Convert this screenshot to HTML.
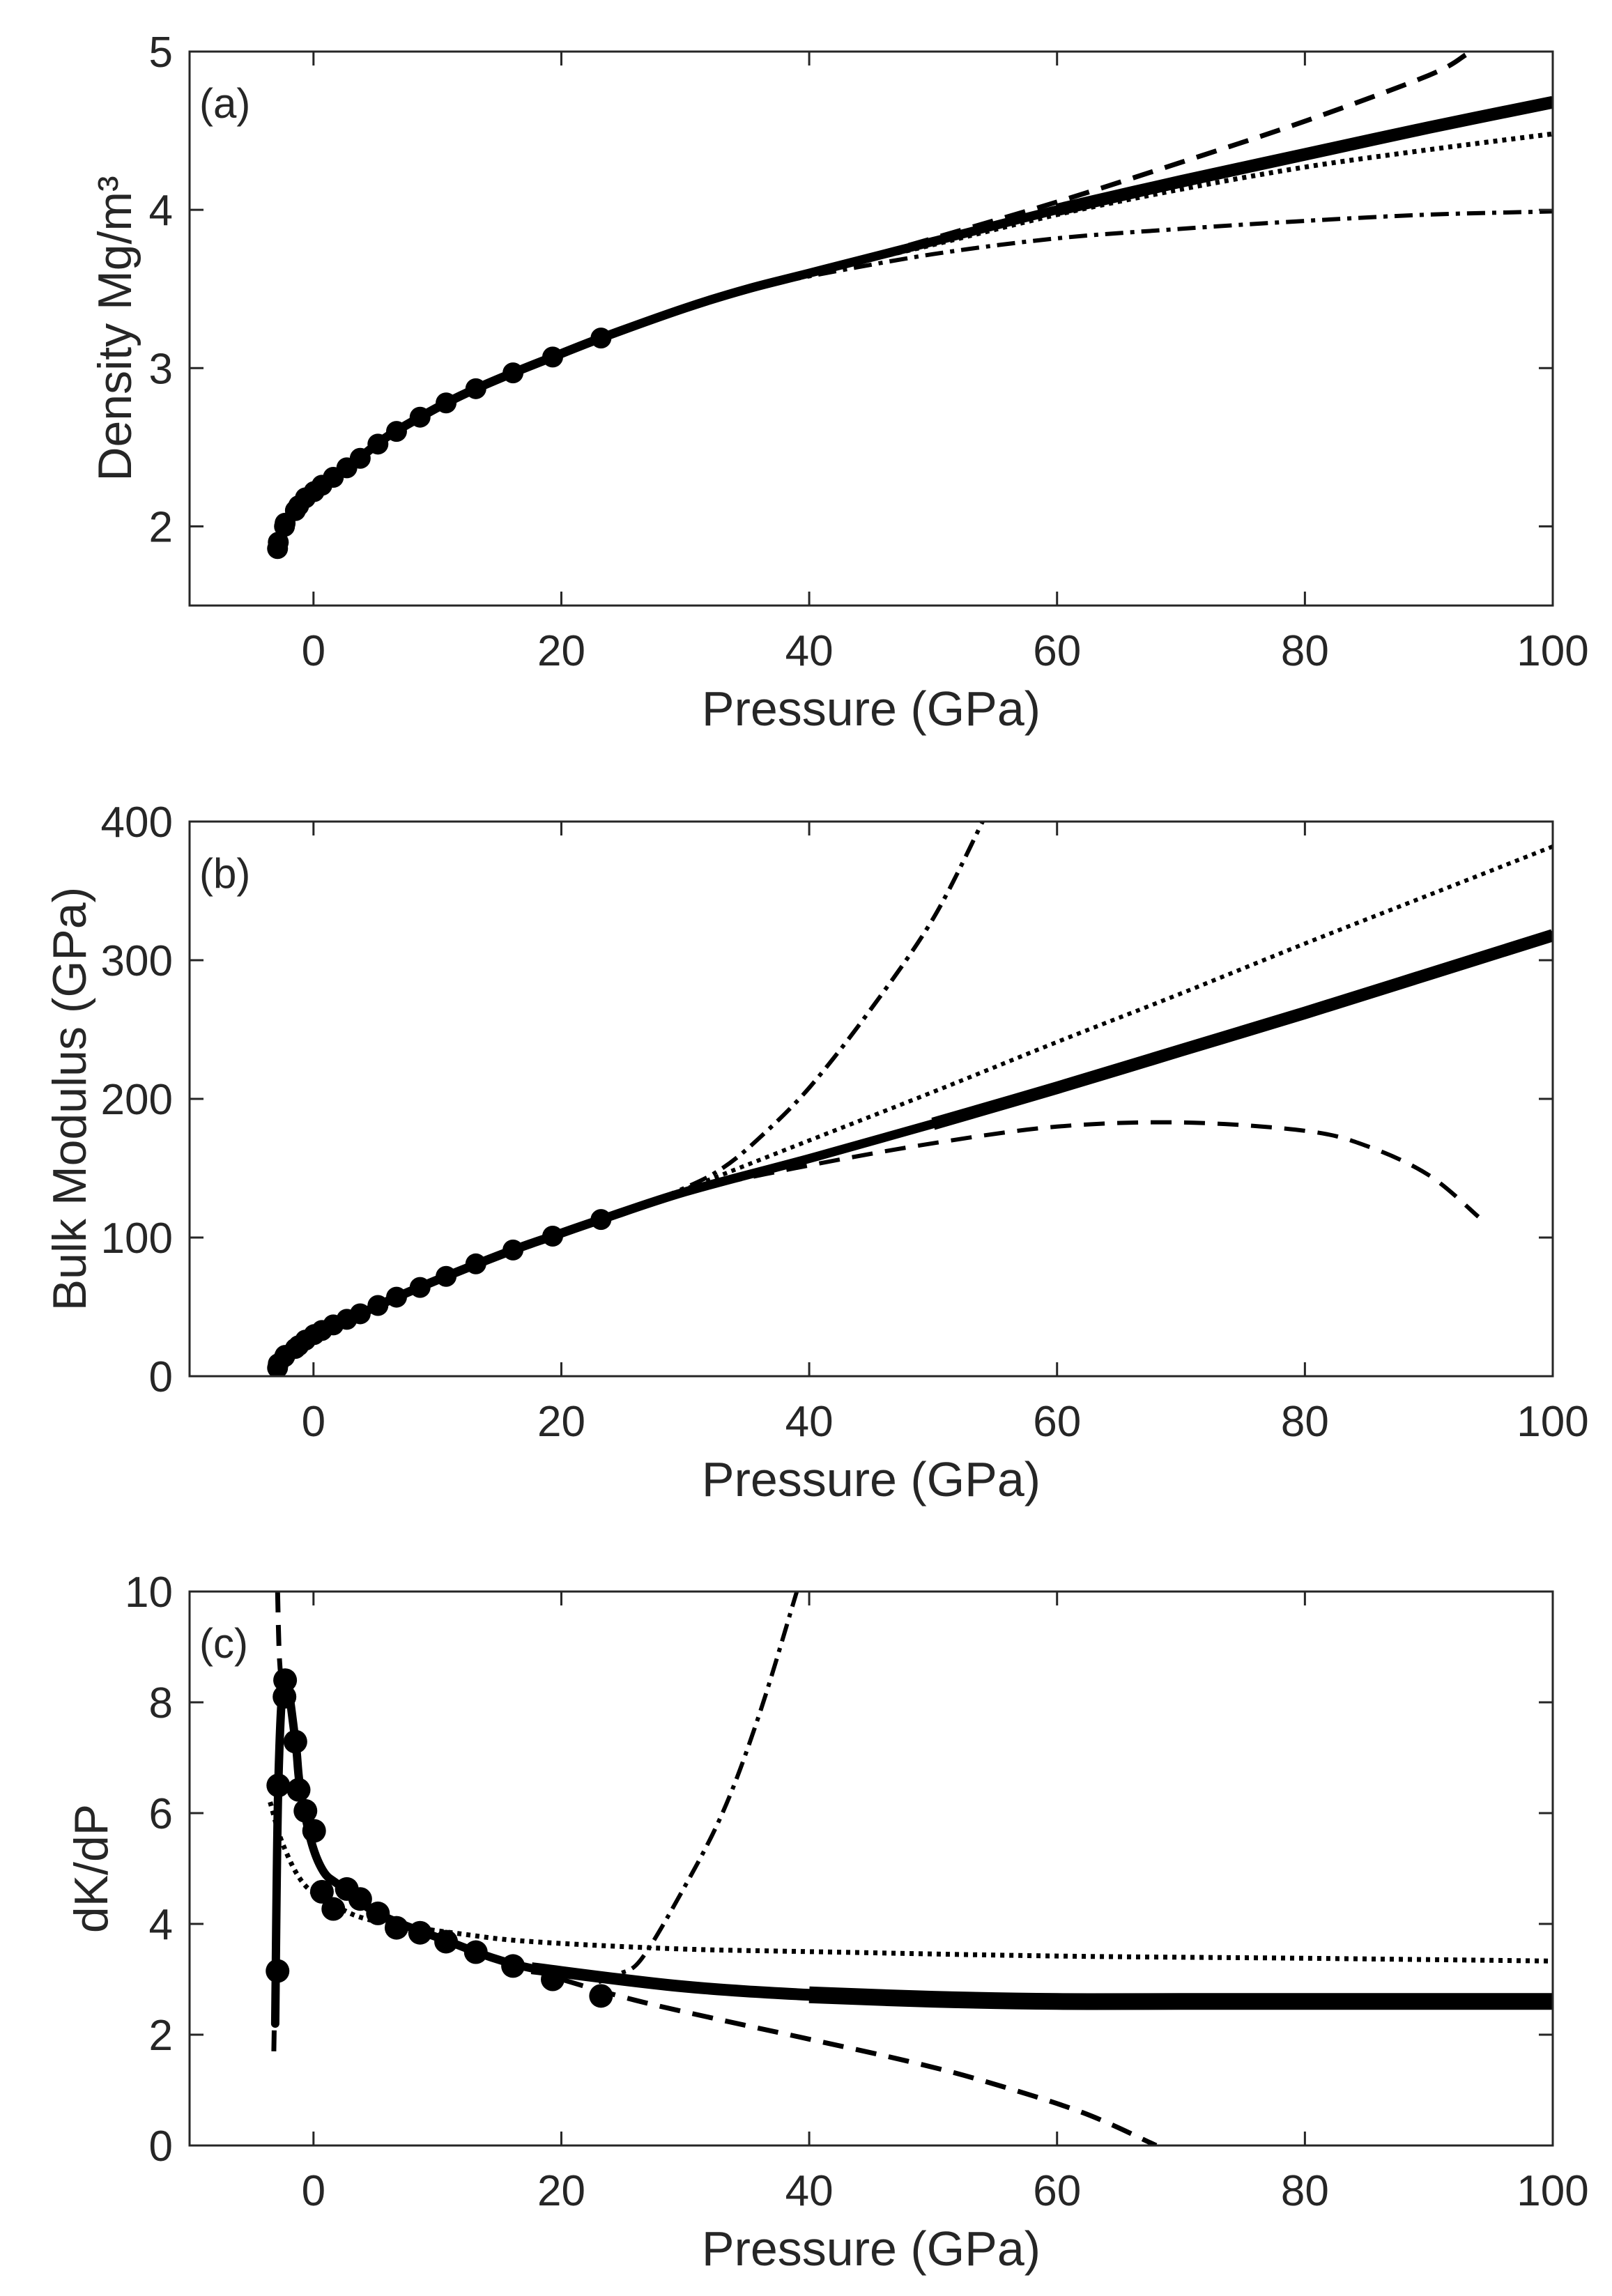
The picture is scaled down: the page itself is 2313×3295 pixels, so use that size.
<!DOCTYPE html>
<html><head><meta charset="utf-8"><style>
html,body{margin:0;padding:0;background:#fff;}
svg{display:block;font-family:"Liberation Sans",Arial,sans-serif;}
</style></head><body>
<svg id="fig" width="2313" height="3295" viewBox="0 0 2313 3295" xmlns="http://www.w3.org/2000/svg"></svg>
<script>
// ---- data ----
const xTicks = [0,20,40,60,80,100];
const markerP = [-2.9,-2.84,-2.34,-2.29,-1.46,-1.2,-0.65,0.05,0.68,1.6,2.69,3.77,5.2,6.7,8.6,10.7,13.1,16.1,19.3,23.2];

// panel a : density
const aTicks = [2,3,4,5];
const aMarkVals = [1.86,1.9,2.0,2.02,2.1,2.13,2.18,2.22,2.26,2.31,2.37,2.43,2.52,2.6,2.69,2.78,2.87,2.97,3.07,3.19];
const aSolidP = [-3,-2.8,-2.4,-2,-1.4,-0.7,0,1,2.5,4,6,8.6,10.7,13.1,16.1,19.3,23.2,30,35,40,50,60,70,80,90,100];
const aSolidV = [1.84,1.9,1.99,2.05,2.11,2.17,2.22,2.28,2.36,2.45,2.57,2.69,2.78,2.87,2.97,3.07,3.19,3.38,3.5,3.6,3.8,4.0,4.18,4.35,4.52,4.68];
const aDashP = [35,40,45,50,60,70,80,90,93];
const aDashV = [3.5,3.61,3.71,3.82,4.05,4.3,4.56,4.85,4.98];
const aDotP = [35,40,50,60,70,80,90,100];
const aDotV = [3.5,3.6,3.78,3.97,4.13,4.27,4.38,4.48];
const aDdP = [35,40,50,60,70,80,90,100];
const aDdV = [3.5,3.58,3.72,3.82,3.88,3.93,3.97,3.99];

// panel b : bulk modulus
const bTicks = [0,100,200,300,400];
const bMarkVals = [6,9,14,15,20,22,26,30,33,37,41,45,51,57,64,72,81,91,101,113];
const bSolidP = [-3,-2.5,-2,-1.2,0,1.6,3.77,6.7,10.7,16.1,19.3,23.2,30,40,50,60,70,80,90,100];
const bSolidV = [6,12,17,22,30,37,45,57,72,91,101,113,133,157,182,208,235,262,290,318];
const bDashP = [20,25,30,40,50,60,70,80,85,90,94];
const bDashV = [103,118,133,152,168,180,183,177,166,145,115];
const bDotP = [20,25,30,40,50,60,70,80,90,100];
const bDotV = [103,119,135,170,205,241,276,312,347,382];
const bDdP = [25,30,33,36,40,45,50,54];
const bDdV = [118,136,150,172,208,265,330,400];

// panel c : dK/dP
const cTicks = [0,2,4,6,8,10];
const cMarkVals = [3.15,6.5,8.1,8.4,7.29,6.42,6.04,5.68,4.58,4.27,4.63,4.45,4.19,3.93,3.84,3.68,3.49,3.24,3.0,2.7];
const cSolidP = [-3.09,-2.84,-2.34,-1.46,-1.1,-0.2,0.8,2.06,5.1,10.1,17.6,29.4,40,50,60,70,100];
const cSolidV = [2.2,6.5,8.45,7.3,6.5,5.5,4.95,4.7,4.2,3.75,3.2,2.88,2.72,2.64,2.6,2.6,2.6];
const cDashTopP = [-2.9,-2.75,-2.5];
const cDashTopV = [10,8.8,8.2];
const cDashLowP = [-3.2,-3.15];
const cDashLowV = [1.7,2.4];
const cDashP = [17.6,20,26,33,40,48,54,62,68];
const cDashV = [3.2,3.0,2.62,2.26,1.92,1.52,1.17,0.6,0];
const cDotP = [-3.5,-2.46,-0.7,2,5,11.9,17.6,29.4,40,60,80,100];
const cDotV = [6.2,5.43,4.7,4.3,4.05,3.82,3.68,3.55,3.5,3.42,3.38,3.33];
const cDdP = [23,24.7,26.4,29.4,33,36,39];
const cDdV = [2.95,3.1,3.35,4.45,6.0,7.8,10];

// ---- drawing ----
const NS='http://www.w3.org/2000/svg';
const svg=document.getElementById('fig');
const L=272,R=2228,XMIN=-10,XMAX=100;
function sx(p){return L+(p-XMIN)/(XMAX-XMIN)*(R-L);}
function mk(tag,attrs,parent){const e=document.createElementNS(NS,tag);for(const k in attrs)e.setAttribute(k,attrs[k]);(parent||svg).appendChild(e);return e;}
function pathD(P,V,sy){
  const pts=P.map((p,i)=>[sx(p),sy(V[i])]);
  let d='M'+pts[0][0].toFixed(1)+','+pts[0][1].toFixed(1);
  for(let i=0;i<pts.length-1;i++){
    const p0=pts[i-1]||pts[i],p1=pts[i],p2=pts[i+1],p3=pts[i+2]||p2;
    const c1=[p1[0]+(p2[0]-p0[0])/6,p1[1]+(p2[1]-p0[1])/6];
    const c2=[p2[0]-(p3[0]-p1[0])/6,p2[1]-(p3[1]-p1[1])/6];
    d+=' C'+c1.map(v=>v.toFixed(1)).join(',')+' '+c2.map(v=>v.toFixed(1)).join(',')+' '+p2[0].toFixed(1)+','+p2[1].toFixed(1);
  }
  return d;
}
function sub(P,V,from){const p=[],v=[];P.forEach((x,i)=>{if(x>=from){p.push(x);v.push(V[i]);}});return [p,v];}
function panel(cfg){
  const g=mk('g',{});
  
  
  const T=cfg.top,B=cfg.bottom;
  const sy=v=>B-(v-cfg.ymin)/(cfg.ymax-cfg.ymin)*(B-T);
  const clipId='clip-'+cfg.name;
  const cp=mk('clipPath',{id:clipId},g);mk('rect',{x:L,y:T,width:R-L,height:B-T},cp);
  const plot=mk('g',{'clip-path':'url(#'+clipId+')'},g);
  
  
  cfg.series.forEach(s=>{
    let P=s.P,V=s.V;
    if(s.from!==undefined){const r=sub(P,V,s.from);P=r[0];V=r[1];}
    const e=mk('path',{d:pathD(P,V,sy),fill:'none',stroke:'#000','stroke-width':s.w,'stroke-dasharray':s.dash||'none','stroke-linecap':s.cap||'butt','stroke-linejoin':'round'},plot);
    
    
  });
  cfg.markV.forEach((v,i)=>{
    const c=mk('circle',{cx:sx(markerP[i]),cy:sy(v),r:cfg.r,fill:'#000'},plot);
    
    
  });
  const box=mk('rect',{x:L,y:T,width:R-L,height:B-T,fill:'none',stroke:'#262626','stroke-width':3},g);
  
  
  xTicks.forEach(t=>{
    const x=sx(t);
    mk('line',{x1:x,y1:B,x2:x,y2:B-20,stroke:'#262626','stroke-width':3},g);
    mk('line',{x1:x,y1:T,x2:x,y2:T+20,stroke:'#262626','stroke-width':3},g);
    const tx=mk('text',{x:x,y:B+86,'font-size':62,'text-anchor':'middle',fill:'#262626'},g);
    tx.textContent=t;
    
    
  });
  cfg.yt.forEach(t=>{
    const y=sy(t);
    mk('line',{x1:L,y1:y,x2:L+20,y2:y,stroke:'#262626','stroke-width':3},g);
    mk('line',{x1:R,y1:y,x2:R-20,y2:y,stroke:'#262626','stroke-width':3},g);
    const tx=mk('text',{x:248,y:y+22,'font-size':62,'text-anchor':'end',fill:'#262626'},g);
    tx.textContent=t;
    
    
  });
  const xl=mk('text',{x:(L+R)/2,y:B+172,'font-size':70,'text-anchor':'middle',fill:'#262626'},g);
  xl.textContent='Pressure (GPa)';
  
  
  const yl=mk('text',{x:0,y:0,'font-size':68,'text-anchor':'middle',fill:'#262626',transform:'translate('+(cfg.ylx+24)+','+((T+B)/2)+') rotate(-90)'},g);
  yl.textContent=cfg.ylabel;
  
  
  const pl=mk('text',{x:286,y:T+95,'font-size':60,fill:'#262626'},g);
  pl.textContent=cfg.label;
  
  
}
panel({name:'panel-a-density',top:74,bottom:869,ymin:1.5,ymax:5,yt:aTicks,ylx:164,ylabel:'Density Mg/m³',label:'(a)',r:15,markV:aMarkVals,
  series:[
    {name:'dashed-series',P:aDashP,V:aDashV,w:7,dash:'30 18'},
    {name:'dotted-series',P:aDotP,V:aDotV,w:7,dash:'6 7'},
    {name:'dash-dot-series',P:aDdP,V:aDdV,w:6,dash:'26 10 6 10'},
    {name:'solid-fit-line',P:aSolidP,V:aSolidV,w:13,cap:'round'},
    {name:'solid-fit-line-thick',P:aSolidP,V:aSolidV,w:18,from:60}]});
panel({name:'panel-b-bulk-modulus',top:1179,bottom:1975,ymin:0,ymax:400,yt:bTicks,ylx:99,ylabel:'Bulk Modulus (GPa)',label:'(b)',r:15,markV:bMarkVals,
  series:[
    {name:'dashed-series',P:bDashP,V:bDashV,w:6,dash:'30 18'},
    {name:'dotted-series',P:bDotP,V:bDotV,w:6,dash:'6 7'},
    {name:'dash-dot-series',P:bDdP,V:bDdV,w:6,dash:'26 10 6 10'},
    {name:'solid-fit-line',P:bSolidP,V:bSolidV,w:13,cap:'round'},
    {name:'solid-fit-line-thick',P:bSolidP,V:bSolidV,w:18,from:50}]});
panel({name:'panel-c-dkdp',top:2284,bottom:3079,ymin:0,ymax:10,yt:cTicks,ylx:130,ylabel:'dK/dP',label:'(c)',r:17,markV:cMarkVals,
  series:[
    {name:'dashed-series-top',P:cDashTopP,V:cDashTopV,w:7,dash:'30 18'},
    {name:'dashed-series-low',P:cDashLowP,V:cDashLowV,w:7,dash:'30 18'},
    {name:'dashed-series',P:cDashP,V:cDashV,w:7,dash:'30 18'},
    {name:'dotted-series',P:cDotP,V:cDotV,w:7,dash:'6 7'},
    {name:'dash-dot-series',P:cDdP,V:cDdV,w:6,dash:'26 10 6 10'},
    {name:'solid-fit-line',P:cSolidP,V:cSolidV,w:12,cap:'round'},
    {name:'solid-fit-line-mid',P:cSolidP,V:cSolidV,w:17,from:17.6},
    {name:'solid-fit-line-thick',P:cSolidP,V:cSolidV,w:24,from:40}]});
</script>
</body></html>
